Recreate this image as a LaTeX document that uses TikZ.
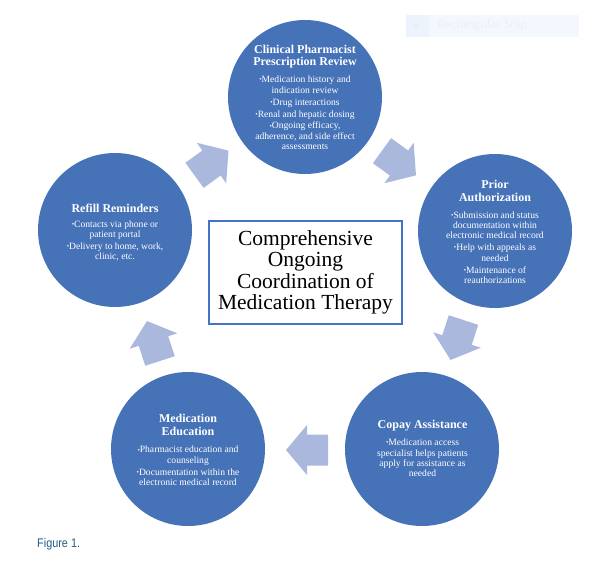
\documentclass[tikz,border=0pt]{standalone}
\usepackage{fontspec}
\usepackage{graphicx}
\setmainfont{Liberation Serif}
\newfontfamily\figfont{Liberation Sans}
\newfontfamily\snipfont{Open Sans}
\definecolor{circblue}{HTML}{4672B8}
\definecolor{arrblue}{HTML}{ABB8DE}
\definecolor{boxblue}{HTML}{4472C4}
\definecolor{figcol}{HTML}{1F5C87}
\definecolor{snipbg}{HTML}{F4F8FE}
\definecolor{snipleft}{HTML}{EDF3FD}
\definecolor{sniptext}{HTML}{ECEEF1}
\newcommand\bul{\raisebox{0.2ex}{\scalebox{0.7}{•}}}
\tikzset{
  stage/.style={circle, fill=circblue, minimum size=154pt, inner sep=0pt},
  headtext/.style={text=white, font=\bfseries\fontsize{12}{12.7}\selectfont, align=center, inner sep=0pt},
  bullettext/.style={text=white, font=\fontsize{9.6}{10.4}\selectfont, align=center, inner sep=0pt},
  barrow/.pic={\fill[arrblue] (-21,-15.5) -- (0,-15.5) -- (0,-25) -- (21,0) -- (0,25) -- (0,15.5) -- (-21,15.5) -- cycle;},
}
\begin{document}
\begin{tikzpicture}[x=1pt,y=-1pt]
\useasboundingbox (0,0) rectangle (600,565);

% faint snip artifact
\fill[snipbg] (406,15) rectangle (579,37);
\fill[snipleft] (406,15) rectangle (429,37);
\node[circle, fill=sniptext, minimum size=5pt, inner sep=0pt] (snipdot) at (416,26) {};
\node[anchor=west, inner sep=0pt, text=sniptext, font=\snipfont\fontsize{11.5}{12}\selectfont] (sniplabel) at (437,26) {Rectangular Snip};

% circles
\node[stage] (review) at (305,97) {};
\node[stage] (prior) at (495,231) {};
\node[stage] (copay) at (422,449) {};
\node[stage] (educ) at (188,449) {};
\node[stage] (refill) at (115,230) {};

% arrows
\pic[rotate=36] at (211.5,163) {barrow};
\pic[rotate=-36] at (399,163) {barrow};
\pic[rotate=-108] at (457,340) {barrow};
\pic[rotate=180] at (307,450) {barrow};
\pic[rotate=108] at (153.5,341) {barrow};

% texts
\node[headtext] (reviewh) at (305,56.5) {Clinical Pharmacist\\Prescription Review};
\node[bullettext] (reviewb) at (305,113) {\bul Medication history and\\indication review\\[1.5pt]\bul Drug interactions\\[1.5pt]\bul Renal and hepatic dosing\\[1.5pt]\bul Ongoing efficacy,\\adherence, and side effect\\assessments};

\node[headtext] (priorh) at (495,191) {Prior\\Authorization};
\node[bullettext] (priorb) at (495,247.5) {\bul Submission and status\\documentation within\\electronic medical record\\[1.5pt]\bul Help with appeals as\\needed\\[1.5pt]\bul Maintenance of\\reauthorizations};

\node[headtext] (copayh) at (422.5,426) {Copay Assistance};
\node[bullettext] (copayb) at (422.5,458) {\bul Medication access\\specialist helps patients\\apply for assistance as\\needed};

\node[headtext] (educh) at (188,424.7) {Medication\\Education};
\node[bullettext] (educb) at (188,466) {\bul Pharmacist education and\\counseling\\[1.5pt]\bul Documentation within the\\electronic medical record};

\node[headtext] (refillh) at (115,208) {Refill Reminders};
\node[bullettext] (refillb) at (115,241) {\bul Contacts via phone or\\patient portal\\[1.5pt]\bul Delivery to home, work,\\clinic, etc.};

% central box
\node[draw=boxblue, line width=2pt, minimum width=193pt, minimum height=103pt, align=center, inner sep=0pt, font=\fontsize{21.5}{21.3}\selectfont] (hub) at (305.5,272.5) {Comprehensive\\Ongoing\\Coordination of\\Medication Therapy};

% caption
\node[anchor=base west, inner sep=0pt, text=figcol, font=\figfont\fontsize{12.5}{13}\selectfont] (caption) at (37,547.5) {\scalebox{0.87}[1]{Figure 1.}};
\end{tikzpicture}
\end{document}
